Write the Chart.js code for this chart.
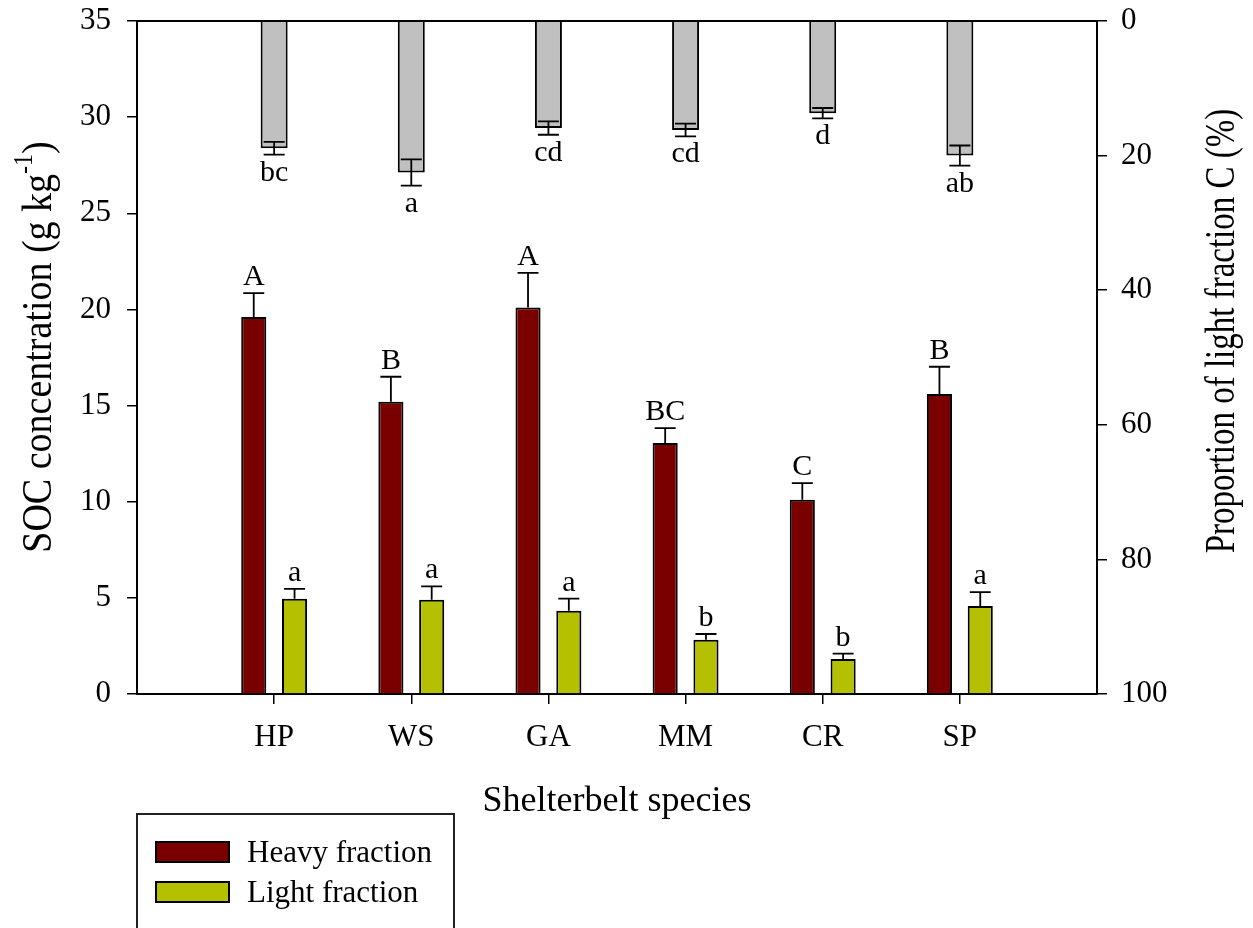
<!DOCTYPE html>
<html>
<head>
<meta charset="utf-8">
<script src="https://cdn.jsdelivr.net/npm/chart.js@4.4.1/dist/chart.umd.min.js"></script>
<style>
  html, body { margin: 0; padding: 0; background: #ffffff; }
  canvas { display: block; }
</style>
</head>
<body>
<canvas id="chart" width="1253" height="928"></canvas>
<script>
// Shelterbelt species on the category axis
const species = ['HP', 'WS', 'GA', 'MM', 'CR', 'SP'];

// SOC concentration (g kg-1), left axis
const heavyFraction = [19.6, 15.2, 20.1, 13.05, 10.1, 15.6];
const heavyError    = [1.25, 1.3, 1.8, 0.78, 0.87, 1.42];
const heavyLetters  = ['A', 'B', 'A', 'BC', 'C', 'B'];

const lightFraction = [4.95, 4.9, 4.33, 2.82, 1.82, 4.58];
const lightError    = [0.52, 0.7, 0.63, 0.3, 0.28, 0.72];
const lightLetters  = ['a', 'a', 'a', 'b', 'b', 'a'];

// Proportion of light fraction C (%), right axis (reversed, hanging bars)
const lightProportion  = [18.9, 22.5, 15.9, 16.2, 13.7, 20.0];
const proportionError  = [0.95, 1.95, 1.0, 0.95, 0.77, 1.5];
const proportionLetters = ['bc', 'a', 'cd', 'cd', 'd', 'ab'];

// Axis ranges and steps
const socRange = [0, 35];
const socStep = 5;
const propRange = [0, 100];
const propStep = 20;

const SERIF = "'Liberation Serif', 'Times New Roman', serif";
Chart.defaults.font.family = SERIF;
Chart.defaults.color = '#000';

// empty slot on each side of the species
const labels = [''].concat(species, ['']);
const pad = arr => [null].concat(arr, [null]);

// error bars and significance letters
const errorBarPlugin = {
  id: 'errorBars',
  afterDatasetsDraw(chart) {
    const ctx = chart.ctx;
    chart.data.datasets.forEach((ds, di) => {
      const meta = chart.getDatasetMeta(di);
      const scale = chart.scales[ds.yAxisID];
      ctx.save();
      ctx.strokeStyle = '#000';
      ctx.lineWidth = 1.8;
      meta.data.forEach((bar, i) => {
        const v = ds.data[i];
        if (v === null || v === undefined) return;
        const e = ds.errors[i];
        const x = bar.x;
        const yHi = scale.getPixelForValue(v + e);
        const yLo = ds.bothSides ? scale.getPixelForValue(v - e) : scale.getPixelForValue(v);
        const half = 10.5;
        ctx.beginPath();
        ctx.moveTo(x, yLo);
        ctx.lineTo(x, yHi);
        ctx.moveTo(x - half, yHi);
        ctx.lineTo(x + half, yHi);
        if (ds.bothSides) {
          ctx.moveTo(x - half, yLo);
          ctx.lineTo(x + half, yLo);
        }
        ctx.stroke();
        ctx.fillStyle = '#000';
        ctx.font = '30px ' + SERIF;
        ctx.textAlign = 'center';
        ctx.textBaseline = 'alphabetic';
        const ty = ds.lettersBelow ? yHi + 26 : yHi - 8;
        ctx.fillText(ds.letters[i], x, ty);
      });
      ctx.restore();
    });
  }
};

// rotated axis titles, legend box and top frame line
const decorPlugin = {
  id: 'decor',
  afterDraw(chart) {
    const ctx = chart.ctx;
    const area = chart.chartArea;
    ctx.save();

    // frame line along the top of the plot
    ctx.strokeStyle = '#000';
    ctx.lineWidth = 2;
    ctx.beginPath();
    ctx.moveTo(area.left, area.top);
    ctx.lineTo(area.right, area.top);
    ctx.stroke();

    // vertical titles reading bottom to top
    const drawRotated = (parts, bx, cy, size, stretch) => {
      ctx.save();
      ctx.translate(bx, cy);
      ctx.rotate(-Math.PI / 2);
      ctx.scale(1, stretch);
      let total = 0;
      parts.forEach(p => {
        ctx.font = Math.round(size * p.s) + 'px ' + SERIF;
        p.w = ctx.measureText(p.t).width;
        total += p.w;
      });
      let x = -total / 2;
      ctx.fillStyle = '#000';
      ctx.textAlign = 'left';
      ctx.textBaseline = 'alphabetic';
      parts.forEach(p => {
        ctx.font = Math.round(size * p.s) + 'px ' + SERIF;
        ctx.fillText(p.t, x, -(p.rise || 0) * size);
        x += p.w;
      });
      ctx.restore();
    };
    drawRotated([
      { t: 'SOC concentration (g kg', s: 1 },
      { t: '-1', s: 0.62, rise: 0.45 },
      { t: ')', s: 1 }
    ], 51, 347, 38, 1.12);
    drawRotated([
      { t: 'Proportion of light fraction C (%)', s: 1 }
    ], 1234, 331, 33, 1.3);

    // legend
    ctx.lineWidth = 2;
    ctx.strokeStyle = '#222';
    ctx.strokeRect(137, 814, 317, 200);
    const items = chart.data.datasets.filter(d => d.inLegend);
    items.forEach((d, k) => {
      const y = 842 + k * 40;
      ctx.fillStyle = d.backgroundColor;
      ctx.fillRect(156, y, 73, 20);
      ctx.lineWidth = 2;
      ctx.strokeStyle = '#000';
      ctx.strokeRect(156, y, 73, 20);
      ctx.fillStyle = '#000';
      ctx.font = '31px ' + SERIF;
      ctx.textAlign = 'left';
      ctx.textBaseline = 'alphabetic';
      ctx.fillText(d.label, 247, y + 20);
    });
    ctx.restore();
  }
};

const tickColorInner = c => (c.index >= 1 && c.index <= species.length) ? '#000' : 'rgba(0,0,0,0)';
const noVerticalPadding = scale => { scale.paddingTop = 0; scale.paddingBottom = 0; };

new Chart(document.getElementById('chart'), {
  type: 'bar',
  data: {
    labels: labels,
    datasets: [
      {
        label: 'Heavy fraction',
        data: pad(heavyFraction),
        errors: pad(heavyError),
        letters: pad(heavyLetters),
        yAxisID: 'y',
        backgroundColor: '#7a0000',
        borderColor: '#000',
        borderWidth: 2,
        categoryPercentage: 0.595,
        barPercentage: 0.615,
        inLegend: true
      },
      {
        label: 'Light fraction',
        data: pad(lightFraction),
        errors: pad(lightError),
        letters: pad(lightLetters),
        yAxisID: 'y',
        backgroundColor: '#b5c000',
        borderColor: '#000',
        borderWidth: 2,
        categoryPercentage: 0.595,
        barPercentage: 0.615,
        inLegend: true
      },
      {
        label: 'Proportion of light fraction C',
        data: pad(lightProportion),
        errors: pad(proportionError),
        letters: pad(proportionLetters),
        bothSides: true,
        lettersBelow: true,
        yAxisID: 'y2',
        grouped: false,
        maxBarThickness: 27,
        backgroundColor: '#c0c0c0',
        borderColor: '#000',
        borderWidth: 2,
        inLegend: false
      }
    ]
  },
  options: {
    responsive: false,
    animation: false,
    devicePixelRatio: 1,
    layout: { padding: 0 },
    plugins: {
      legend: { display: false },
      tooltip: { enabled: false }
    },
    scales: {
      x: {
        type: 'category',
        position: 'bottom',
        offset: false,
        stacked: false,
        grid: {
          offset: false,
          drawOnChartArea: false,
          drawTicks: true,
          tickLength: 10,
          lineWidth: 1.5,
          color: tickColorInner
        },
        border: { display: true, color: '#000', width: 2 },
        ticks: {
          autoSkip: false,
          maxRotation: 0,
          padding: 15,
          font: { size: 31 },
          color: '#000'
        },
        title: {
          display: true,
          text: 'Shelterbelt species',
          font: { size: 36 },
          color: '#000',
          padding: { top: 0, bottom: 105 }
        },
        afterFit(scale) { scale.height = 234; }
      },
      xTop: {
        type: 'linear',
        position: 'top',
        display: true,
        min: 0,
        max: 1,
        grid: { display: false },
        border: { display: false },
        ticks: { display: false },
        afterFit(scale) { scale.height = 21; }
      },
      y: {
        type: 'linear',
        position: 'left',
        min: socRange[0],
        max: socRange[1],
        grid: {
          drawOnChartArea: false,
          tickLength: 10,
          lineWidth: 1.5,
          color: '#000'
        },
        border: { display: true, color: '#000', width: 2 },
        ticks: {
          stepSize: socStep,
          padding: 16,
          font: { size: 31 },
          color: '#000'
        },
        afterFit(scale) { scale.width = 137; noVerticalPadding(scale); }
      },
      y2: {
        type: 'linear',
        position: 'right',
        reverse: true,
        min: propRange[0],
        max: propRange[1],
        grid: {
          drawOnChartArea: false,
          tickLength: 10,
          lineWidth: 1.5,
          color: '#000'
        },
        border: { display: true, color: '#000', width: 2 },
        ticks: {
          stepSize: propStep,
          padding: 14,
          font: { size: 31 },
          color: '#000'
        },
        afterFit(scale) { scale.width = 156; noVerticalPadding(scale); }
      }
    }
  },
  plugins: [errorBarPlugin, decorPlugin]
});
</script>
</body>
</html>
